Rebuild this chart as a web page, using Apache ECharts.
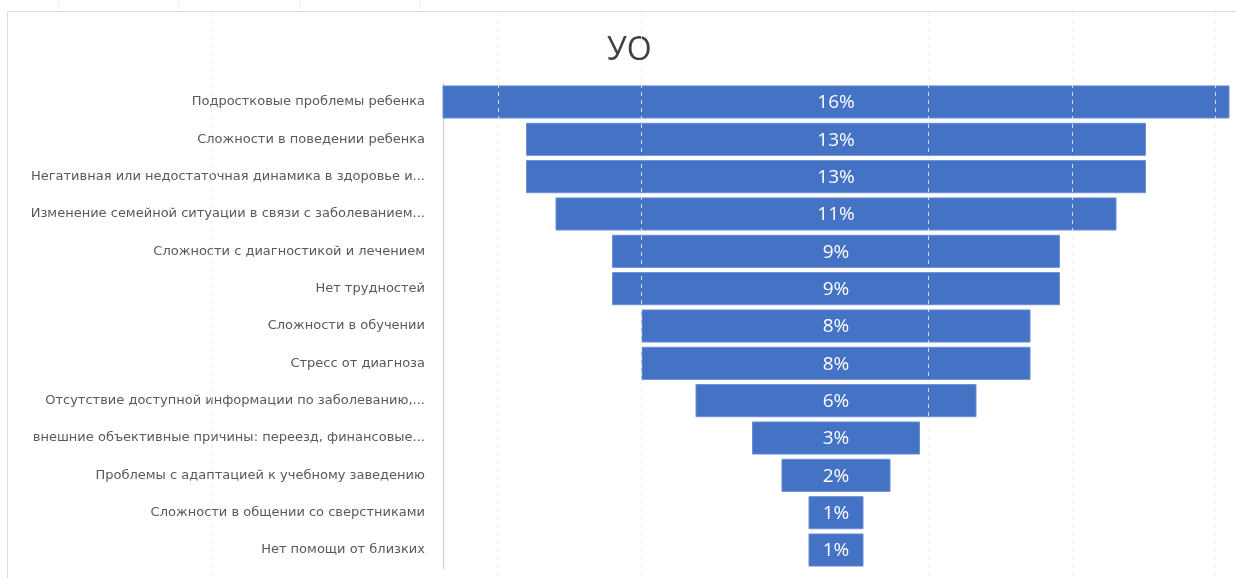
<!DOCTYPE html>
<html>
<head>
<meta charset="utf-8">
<title>УО</title>
<script src="https://cdn.jsdelivr.net/npm/echarts@6/dist/echarts.min.js"></script>
<style>
  html, body { margin: 0; padding: 0; background: #ffffff; }
  #chart { width: 1236px; height: 578px; }
</style>
</head>
<body>
<div id="chart"></div>
<script>
// Categories, top to bottom
var categories = [
  'Подростковые проблемы ребенка',
  'Сложности в поведении ребенка',
  'Негативная или недостаточная динамика в здоровье и...',
  'Изменение семейной ситуации в связи с заболеванием...',
  'Сложности с диагностикой и лечением',
  'Нет трудностей',
  'Сложности в обучении',
  'Стресс от диагноза',
  'Отсутствие доступной информации по заболеванию,...',
  'внешние объективные причины: переезд, финансовые...',
  'Проблемы с адаптацией к учебному заведению',
  'Сложности в общении со сверстниками',
  'Нет помощи от близких'
];

// Share of answers, percent
var shares = [16.0, 12.6, 12.6, 11.4, 9.1, 9.1, 7.9, 7.9, 5.7, 3.4, 2.2, 1.1, 1.1];

var chartTitle = 'УО';

var maxShare = Math.max.apply(null, shares);
var seriesData = shares.map(function (v, i) { return [i, v]; });

// Faint page grid lines
var gridXs = [211, 498, 641, 928, 1072, 1215];
var topXs = [58, 178, 299, 420];
var graphics = [{
  type: 'rect',
  z: -1,
  shape: { x: 7.5, y: 11.5, width: 1260, height: 600 },
  style: { fill: 'none', stroke: '#dcdcdc', lineWidth: 1 }
}];
gridXs.forEach(function (x) {
  graphics.push({
    type: 'line', z: 100, silent: true,
    shape: { x1: x + 0.5, y1: 12, x2: x + 0.5, y2: 578 },
    style: { stroke: 'rgba(238,238,238,0.85)', lineWidth: 1, lineDash: [4, 4] }
  });
});
topXs.forEach(function (x) {
  graphics.push({
    type: 'line', z: 100, silent: true,
    shape: { x1: x + 0.5, y1: 0, x2: x + 0.5, y2: 11 },
    style: { stroke: '#e6e6e6', lineWidth: 1, lineDash: [2, 3] }
  });
});

var chart = echarts.init(document.getElementById('chart'), null, { renderer: 'canvas' });

chart.setOption({
  animation: false,
  backgroundColor: '#ffffff',
  title: {
    text: chartTitle,
    left: 602,
    top: 30,
    textStyle: { fontFamily: 'Open Sans', fontSize: 32, fontWeight: 'normal', color: '#404040' }
  },
  graphic: graphics,
  grid: { left: 443, right: 7, top: 83.3, bottom: 9.3 },
  xAxis: {
    type: 'value',
    min: -maxShare / 2,
    max: maxShare / 2,
    show: false
  },
  yAxis: {
    type: 'category',
    data: categories,
    inverse: true,
    axisLine: { show: true, onZero: false, lineStyle: { color: '#c8c8c8', width: 1 } },
    axisTick: { show: false },
    axisLabel: {
      margin: 18,
      color: '#595959',
      fontSize: 13,
      fontFamily: 'DejaVu Sans',
      padding: [4, 0, 0, 0]
    }
  },
  series: [{
    type: 'custom',
    data: seriesData,
    encode: { y: 0, x: 1 },
    renderItem: function (params, api) {
      var cat = api.value(0);
      var v = api.value(1);
      var l = api.coord([-v / 2, cat]);
      var r = api.coord([v / 2, cat]);
      var h = api.size([0, 1])[1] * 0.86;
      return {
        type: 'group',
        children: [{
          type: 'rect',
          shape: { x: l[0], y: l[1] - h / 2, width: r[0] - l[0], height: h },
          style: { fill: '#4472C4', stroke: '#6b90d3', lineWidth: 1 }
        }, {
          type: 'text',
          style: {
            text: Math.round(v) + '%',
            x: (l[0] + r[0]) / 2,
            y: l[1] + 1,
            align: 'center',
            verticalAlign: 'middle',
            fill: '#ffffff',
            font: '19px "Open Sans"'
          }
        }]
      };
    }
  }]
});
</script>
</body>
</html>
